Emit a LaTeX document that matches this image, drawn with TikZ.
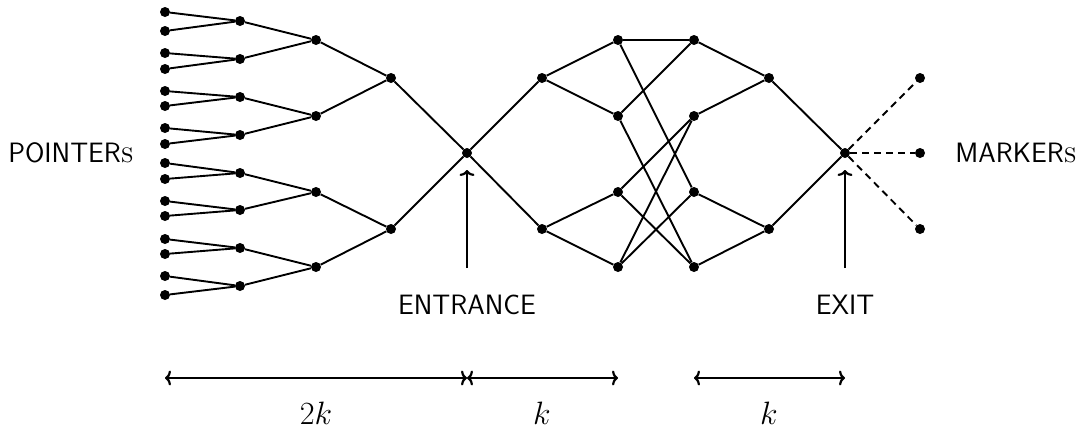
\documentclass[tikz,border=0pt]{standalone}
\usepackage{fontspec}
\usetikzlibrary{arrows.meta}
\begin{document}
\begin{tikzpicture}[x=1pt,y=-1pt,
  dot/.style={circle,fill=black,inner sep=0pt,minimum size=10pt},
  edge/.style={line width=1.9pt},
  dashedge/.style={line width=1.9pt,dash pattern=on 7pt off 5pt},
  arr/.style={line width=2.2pt,-{To[length=6pt,width=15pt]}},
  darr/.style={line width=2.2pt,{To[length=6pt,width=15pt]}-{To[length=6pt,width=15pt]}},
  lbl/.style={font=\fontsize{28}{32}\selectfont\sffamily,inner sep=0pt},
  mlbl/.style={font=\fontsize{24.88}{30}\selectfont,inner sep=0pt,scale=1.3},
]
\useasboundingbox (0,0) rectangle (1080,432);
% leaves
\foreach \i/\y in {1/12,2/31,3/53,4/69,5/91,6/106,7/128,8/144,9/163,10/179,11/201,12/216,13/239,14/254,15/276,16/295}
  \node[dot] (L\i) at (165,\y) {};
% level 2
\foreach \i/\y in {1/21,2/59,3/97,4/135,5/173,6/210,7/248,8/286}
  \node[dot] (P\i) at (240,\y) {};
% level 3
\foreach \i/\y in {1/40,2/116,3/192,4/267}
  \node[dot] (Q\i) at (316,\y) {};
% level 4
\node[dot] (R1) at (391,78) {};
\node[dot] (R2) at (391,229) {};
% entrance
\node[dot] (E) at (467,153) {};
% middle
\node[dot] (A1) at (542,78) {};
\node[dot] (A2) at (542,229) {};
\foreach \i/\y in {1/40,2/116,3/192,4/267}{
  \node[dot] (B\i) at (618,\y) {};
  \node[dot] (C\i) at (694,\y) {};
}
\node[dot] (D1) at (769,78) {};
\node[dot] (D2) at (769,229) {};
\node[dot] (X) at (845,153) {};
\node[dot] (M1) at (920,78) {};
\node[dot] (M2) at (920,153) {};
\node[dot] (M3) at (920,229) {};

% tree edges
\foreach \p/\a/\b in {1/1/2,2/3/4,3/5/6,4/7/8,5/9/10,6/11/12,7/13/14,8/15/16}{
  \draw[edge] (P\p) -- (L\a);
  \draw[edge] (P\p) -- (L\b);
}
\foreach \q/\a/\b in {1/1/2,2/3/4,3/5/6,4/7/8}{
  \draw[edge] (Q\q) -- (P\a);
  \draw[edge] (Q\q) -- (P\b);
}
\draw[edge] (R1) -- (Q1); \draw[edge] (R1) -- (Q2);
\draw[edge] (R2) -- (Q3); \draw[edge] (R2) -- (Q4);
\draw[edge] (E) -- (R1); \draw[edge] (E) -- (R2);
% middle edges
\foreach \u/\v in {E/A1,E/A2,A1/B1,A1/B2,A2/B3,A2/B4,B1/C1,B1/C3,B2/C1,B2/C4,B3/C2,B3/C4,B4/C2,B4/C3,C1/D1,C2/D1,C3/D2,C4/D2,D1/X,D2/X}
  \draw[edge] (\u) -- (\v);
\foreach \m in {M1,M2,M3}
  \draw[dashedge] (X) -- (\m);

% labels
\node[lbl] (ptr) at (71,153) {POINTER{\rmfamily\scshape s}};
\node[lbl] (mrk) at (1016,153) {MARKER{\rmfamily\scshape s}};

% entrance / exit arrows
\coordinate (ea) at (467,268);
\coordinate (et) at (467,170);
\coordinate (xa) at (845,268);
\coordinate (xt) at (845,170);
\draw[arr] (ea) -- (et);
\draw[arr] (xa) -- (xt);
\node[lbl] (ent) at (467,305) {ENTRANCE};
\node[lbl] (ext) at (845,305) {EXIT};

% bottom measures
\coordinate (b1) at (165,378);
\coordinate (b2) at (467,378);
\coordinate (b3) at (618,378);
\coordinate (b4) at (694,378);
\coordinate (b5) at (845,378);
\draw[darr] (b1) -- (b2);
\draw[darr] (b2) -- (b3);
\draw[darr] (b4) -- (b5);
\node[mlbl] (k2) at (316,413) {$2k$};
\node[mlbl] (k1) at (542,413) {$k$};
\node[mlbl] (k3) at (769,413) {$k$};
\end{tikzpicture}
\end{document}
